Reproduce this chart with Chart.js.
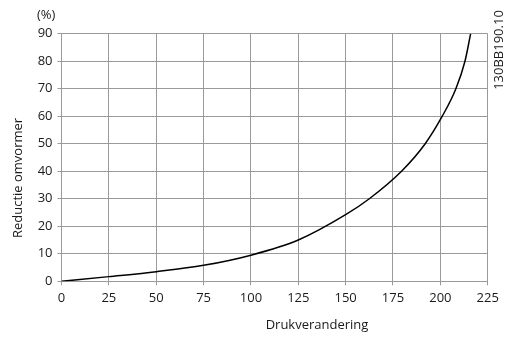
<!DOCTYPE html>
<html>
<head>
<meta charset="utf-8">
<script src="https://cdn.jsdelivr.net/npm/chart.js@4"></script>
<style>
  html, body { margin: 0; padding: 0; background: #fff; }
  #wrap { width: 509px; height: 340px; position: relative; }
</style>
</head>
<body>
<div id="wrap"><canvas id="myChart"></canvas></div>
<script>
// pressure change (x) vs drive reduction (%)
const druk = [0, 25, 50, 75, 100, 125, 150, 162.5, 179.5, 192, 201, 208.2, 213, 216];
const reductie = [0, 1.7, 3.5, 5.8, 9.5, 15, 24.2, 30, 40, 50, 60, 70, 80, 90];
const xTicks = [0, 25, 50, 75, 100, 125, 150, 175, 200, 225];
const yTicks = [0, 10, 20, 30, 40, 50, 60, 70, 80, 90];

const gridCol = "#9a9a9a";
const txtCol = "#1a1a1a";
const fnt = "'Open Sans', sans-serif";

// extra labels that are not centred like chart.js axis titles
const extraText = {
    id: "extraText",
    afterDraw(chart) {
        const c = chart.ctx;
        c.save();
        c.fillStyle = txtCol;
        c.font = "13px " + fnt;
        c.textBaseline = "middle";
        c.textAlign = "left";
        c.fillText("(%)", 37, 15);
        c.textAlign = "center";
        c.fillText("Drukverandering", 317, 325);
        c.translate(18, 178);
        c.rotate(-Math.PI / 2);
        c.fillText("Reductie omvormer", 0, 0);
        c.restore();
        c.save();
        c.fillStyle = txtCol;
        c.font = "13px " + fnt;
        c.textBaseline = "middle";
        c.textAlign = "center";
        c.translate(499, 50);
        c.rotate(-Math.PI / 2);
        c.fillText("130BB190.10", 0, 0);
        c.restore();
    }
};

new Chart("myChart", {
    type: "line",
    data: {
        datasets: [{
            data: druk.map((x, i) => ({x: x, y: reductie[i]})),
            borderColor: "#000",
            borderWidth: 1.5,
            pointRadius: 0,
            cubicInterpolationMode: "monotone",
            fill: false
        }]
    },
    options: {
        responsive: true,
        maintainAspectRatio: false,
        animation: false,
        layout: {padding: {left: 0, top: 33.7, right: 21.3, bottom: 0}},
        plugins: {legend: {display: false}, tooltip: {enabled: false}},
        scales: {
            x: {
                type: "linear",
                min: 0, max: 225,
                afterBuildTicks: s => { s.ticks = xTicks.map(v => ({value: v})); },
                afterFit: s => { s.height = 58.7; },
                grid: {color: gridCol, tickLength: 4, lineWidth: 1},
                border: {color: gridCol},
                ticks: {color: txtCol, font: {family: fnt, size: 13}, padding: 5, maxRotation: 0}
            },
            y: {
                min: 0, max: 90,
                afterBuildTicks: s => { s.ticks = yTicks.map(v => ({value: v})); },
                afterFit: s => { s.width = 61.5; },
                grid: {color: gridCol, tickLength: 4, lineWidth: 1},
                border: {color: gridCol},
                ticks: {color: txtCol, font: {family: fnt, size: 13}, padding: 5}
            }
        }
    },
    plugins: [extraText]
});
</script>
</body>
</html>
